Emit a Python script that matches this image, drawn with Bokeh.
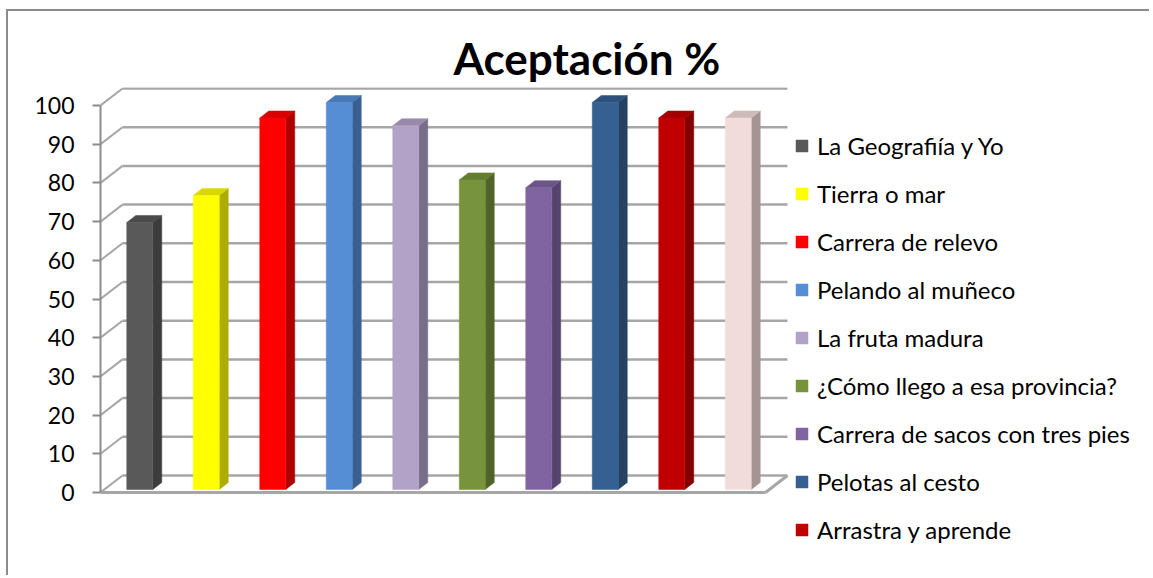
from bokeh.plotting import figure
from bokeh.models import Range1d, FixedTicker, Legend, LegendItem, ColumnDataSource
from bokeh.embed import file_html
from bokeh.resources import INLINE

# ---------------- data ----------------
legend_labels = ["La Geografiía y Yo", "Tierra o mar", "Carrera de relevo",
                 "Pelando al muñeco", "La fruta madura", "¿Cómo llego a esa provincia?",
                 "Carrera de sacos con tres pies", "Pelotas al cesto", "Arrastra y aprende"]
values = [69, 76, 96, 100, 94, 80, 78, 100, 96, 96]
y_ticks = [0, 10, 20, 30, 40, 50, 60, 70, 80, 90, 100]
title_text = "Aceptación %"

# ---------------- styles / geometry ----------------
front_colors = ["#595959", "#FFFF00", "#FF0000", "#558ED5", "#B3A2C7",
                "#77933C", "#8064A2", "#376092", "#C00000", "#F2DCDB"]


def shade(hex_color, f):
    h = hex_color.lstrip("#")
    r, g, b = (int(h[i:i + 2], 16) for i in (0, 2, 4))
    return "#%02x%02x%02x" % (int(r * f), int(g * f), int(b * f))


side_colors = [shade(c, 0.68) for c in front_colors]
top_colors = [shade(c, 0.85) for c in front_colors]

W, H = 1143, 566
ML, MT = 92, 76
PX_X = 66.5          # pixels per category
PX_Y = 3.87          # pixels per value unit
frame_w = W - ML
frame_h = H - MT
TOP_GAP = 18         # px from frame top to the top tick
DX = 22 / PX_X       # depth of the 3D box
DY = 17 / PX_Y
BDX = 9 / PX_X       # depth of a bar
BDY = 7 / PX_Y
B_OFF_X = 6 / PX_X   # bar placement inside the depth
B_OFF_Y = 3 / PX_Y
BAR_W = 26 / PX_X
GRID = "#a6a6a6"

y_end = y_ticks[-1] + TOP_GAP / PX_Y
p = figure(width=W, height=H, output_backend="svg", toolbar_location=None,
           x_range=Range1d(0, frame_w / PX_X), y_range=Range1d(y_end - frame_h / PX_Y, y_end),
           min_border_left=ML, min_border_top=MT, min_border_right=0, min_border_bottom=0,
           title=title_text)
p.styles = {"border-left": "2px solid #8c8c8c", "border-top": "2px solid #8c8c8c",
            "margin-left": "6px", "margin-top": "9px"}
p.outline_line_color = None
p.grid.visible = False
p.xaxis.visible = False

p.title.align = "left"
p.title.offset = 353
p.title.text_font = "Lato"
p.title.text_font_style = "bold"
p.title.text_font_size = "44px"
p.title.text_color = "black"
p.title.standoff = 8

ax = p.yaxis[0]
ax.ticker = FixedTicker(ticks=y_ticks)
ax.bounds = (y_ticks[0], y_ticks[-1])
ax.axis_line_color = "#8c8c8c"
ax.axis_line_width = 2
ax.major_tick_line_color = "#8c8c8c"
ax.major_tick_line_width = 2
ax.major_tick_out = 8
ax.major_tick_in = 0
ax.minor_tick_line_color = None
ax.major_label_text_font = "Lato"
ax.major_label_text_font_size = "23px"
ax.major_label_text_color = "black"
ax.major_label_standoff = 18

n = len(values)
# back wall gridlines and side-wall diagonals
p.segment(x0=[DX] * len(y_ticks), y0=[v + DY for v in y_ticks],
          x1=[n + DX] * len(y_ticks), y1=[v + DY for v in y_ticks],
          line_color=GRID, line_width=2.5)
p.segment(x0=[0] * len(y_ticks), y0=y_ticks, x1=[DX] * len(y_ticks), y1=[v + DY for v in y_ticks],
          line_color=GRID, line_width=2)
# floor front & right edges
p.segment(x0=[0, n], y0=[0, 0], x1=[n, n + DX], y1=[0, DY], line_color=GRID, line_width=3)

# bars
xs = [i + 0.5 + B_OFF_X for i in range(n)]
side_x, side_y, top_x, top_y = [], [], [], []
for x, v in zip(xs, values):
    l, r = x - BAR_W / 2, x + BAR_W / 2
    b, t = B_OFF_Y, v + B_OFF_Y
    side_x.append([r, r + BDX, r + BDX, r])
    side_y.append([b, b + BDY, t + BDY, t])
    top_x.append([l, l + BDX, r + BDX, r])
    top_y.append([t, t + BDY, t + BDY, t])
p.patches(xs=side_x, ys=side_y, fill_color=side_colors, line_color=side_colors, line_width=0.5)
p.patches(xs=top_x, ys=top_y, fill_color=top_colors, line_color=top_colors, line_width=0.5)
src = ColumnDataSource(dict(x=xs, top=[v + B_OFF_Y for v in values], color=front_colors))
front = p.vbar(x="x", top="top", bottom=B_OFF_Y, width=BAR_W, source=src,
               fill_color="color", line_color="color", line_width=0.5)

legend = Legend(items=[LegendItem(label=lab, renderers=[front], index=i)
                       for i, lab in enumerate(legend_labels)],
                location=(694, 33), border_line_color=None, background_fill_alpha=0,
                glyph_width=15, glyph_height=15, label_height=20, label_standoff=8,
                label_text_font="Lato", label_text_font_size="24px", label_text_color="black",
                spacing=19, padding=0, margin=0)
p.add_layout(legend)

open("out.html", "w").write(file_html(p, INLINE))
